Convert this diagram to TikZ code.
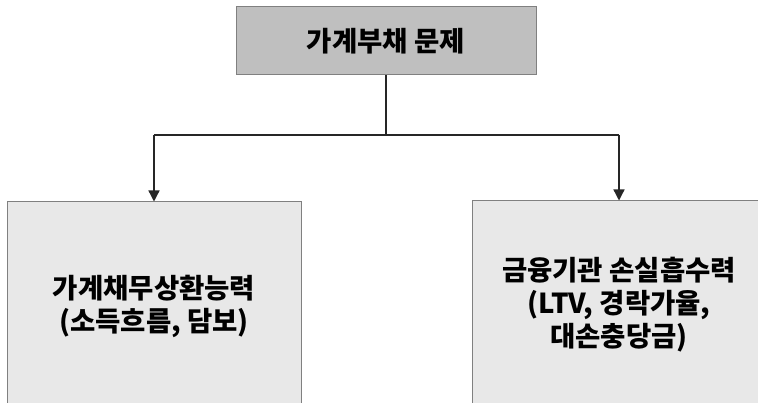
\documentclass[tikz,border=0pt]{standalone}
\usepackage{fontspec}
\setmainfont{Noto Sans CJK KR}
\usetikzlibrary{arrows.meta}
\tikzset{
  topbox/.style={draw=black!50, fill=black!25, line width=1pt, minimum width=300pt, minimum height=68pt, inner sep=0pt},
  subbox/.style={draw=black!50, fill=black!9, line width=1pt, minimum width=294pt, minimum height=208pt, inner sep=0pt, align=center},
  lbl/.style={font=\fontsize{27.5}{33}\selectfont\bfseries},
  conn/.style={line width=1.3pt, draw=black!85},
  arr/.style={conn, -{Triangle[width=11pt,length=11pt]}}
}
\begin{document}
\begin{tikzpicture}[x=1pt,y=-1pt]
\useasboundingbox (0,0) rectangle (758,403);
\clip (0,0) rectangle (758,403);
\node[topbox, lbl] (top) at (386,41) {가계부채 문제};
\node[subbox, lbl] (left) at (154,306) {가계채무상환능력\\(소득흐름, 담보)};
\node[subbox, lbl] (right) at (619,305) {금융기관 손실흡수력\\(LTV, 경락가율,\\대손충당금)};
\coordinate (mid) at (386,135);
\coordinate (lt) at (154,135);
\coordinate (rt) at (619,135);
\draw[conn] (top.south) -- (mid);
\draw[conn] (lt) -- (rt);
\draw[arr] (lt) -- (left.north);
\draw[arr] (rt) -- (right.north);
\end{tikzpicture}
\end{document}
